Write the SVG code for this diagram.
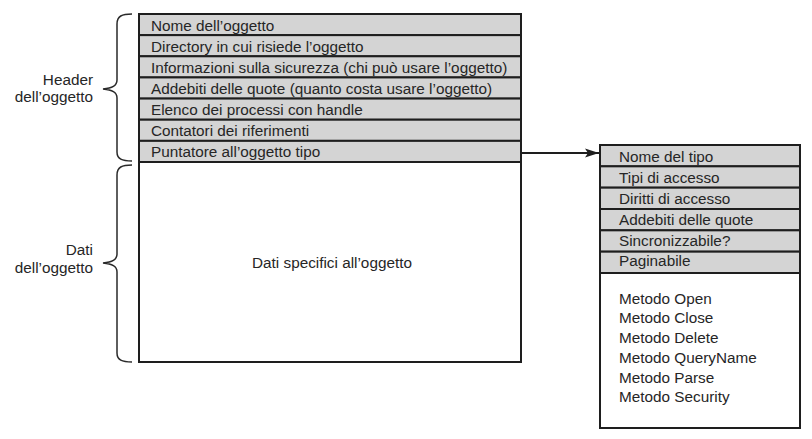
<svg xmlns="http://www.w3.org/2000/svg" width="812" height="439" viewBox="0 0 812 439">
<style>
.t{font-family:"Liberation Sans",Arial,sans-serif;font-size:15.3px;fill:#262626}
.r{text-anchor:end}
.row{fill:#d4d4d4;stroke:#1e1e1e;stroke-width:2}
.box{fill:#fff;stroke:#1e1e1e;stroke-width:2}
.br{fill:none;stroke:#2a2a2a;stroke-width:1.5}
.c{fill:none;stroke:#1e1e1e;stroke-width:2}
</style>
<defs>
<marker id="ah" markerWidth="16" markerHeight="10" refX="14" refY="5" orient="auto" markerUnits="userSpaceOnUse">
<path d="M0,0.5 L14,5 L0,9.5 L3,5 Z" fill="#1e1e1e"/>
</marker>
</defs>
<rect width="812" height="439" fill="#fff"/>
<g id="object">
<rect class="box" x="139" y="14" width="382" height="348"/>
<rect class="row" x="139" y="14" width="382" height="21.14"/>
<rect class="row" x="139" y="35.14" width="382" height="21.14"/>
<rect class="row" x="139" y="56.29" width="382" height="21.14"/>
<rect class="row" x="139" y="77.43" width="382" height="21.14"/>
<rect class="row" x="139" y="98.57" width="382" height="21.14"/>
<rect class="row" x="139" y="119.71" width="382" height="21.14"/>
<rect class="row" x="139" y="140.86" width="382" height="21.14"/>
<text class="t" x="151" y="30.5">Nome dell’oggetto</text>
<text class="t" x="151" y="51.5">Directory in cui risiede l’oggetto</text>
<text class="t" x="151" y="72.5">Informazioni sulla sicurezza (chi può usare l’oggetto)</text>
<text class="t" x="151" y="93.5">Addebiti delle quote (quanto costa usare l’oggetto)</text>
<text class="t" x="151" y="114.5">Elenco dei processi con handle</text>
<text class="t" x="151" y="136">Contatori dei riferimenti</text>
<text class="t" x="151" y="157">Puntatore all’oggetto tipo</text>
<text class="t" x="332" y="267.5" text-anchor="middle">Dati specifici all’oggetto</text>
</g>
<g id="type">
<rect class="box" x="600" y="145" width="200" height="283"/>
<rect class="row" x="600" y="145" width="200" height="21.33"/>
<rect class="row" x="600" y="166.33" width="200" height="21.33"/>
<rect class="row" x="600" y="187.67" width="200" height="21.33"/>
<rect class="row" x="600" y="209" width="200" height="21.33"/>
<rect class="row" x="600" y="230.33" width="200" height="21.33"/>
<rect class="row" x="600" y="251.67" width="200" height="21.33"/>
<text class="t" x="619" y="161.5">Nome del tipo</text>
<text class="t" x="619" y="182.5">Tipi di accesso</text>
<text class="t" x="619" y="203.5">Diritti di accesso</text>
<text class="t" x="619" y="224.5">Addebiti delle quote</text>
<text class="t" x="619" y="245.5">Sincronizzabile?</text>
<text class="t" x="619" y="266">Paginabile</text>
<text class="t" x="619" y="303.5">Metodo Open</text>
<text class="t" x="619" y="323">Metodo Close</text>
<text class="t" x="619" y="343">Metodo Delete</text>
<text class="t" x="619" y="362.5">Metodo QueryName</text>
<text class="t" x="619" y="382.5">Metodo Parse</text>
<text class="t" x="619" y="402">Metodo Security</text>
</g>
<g id="header-label">
<path class="br" d="M132,14 C122,14 117,16 117,24 L117,80 C117,86 112,88 103,89 C112,90 117,92 117,98 L117,152 C117,159 122,161 132,161"/>
<text class="t r" x="93" y="84.5">Header</text>
<text class="t r" x="93" y="101.5">dell’oggetto</text>
</g>
<g id="data-label">
<path class="br" d="M132,165 C122,165 117,167 117,175 L117,254 C117,260 112,262 103,263 C112,264 117,266 117,272 L117,353 C117,360 122,362 132,362"/>
<text class="t r" x="93" y="254.5">Dati</text>
<text class="t r" x="93" y="272.5">dell’oggetto</text>
</g>
<g id="connectors">
<path class="c" d="M521,153 L599,153" marker-end="url(#ah)"/>
</g>
</svg>
